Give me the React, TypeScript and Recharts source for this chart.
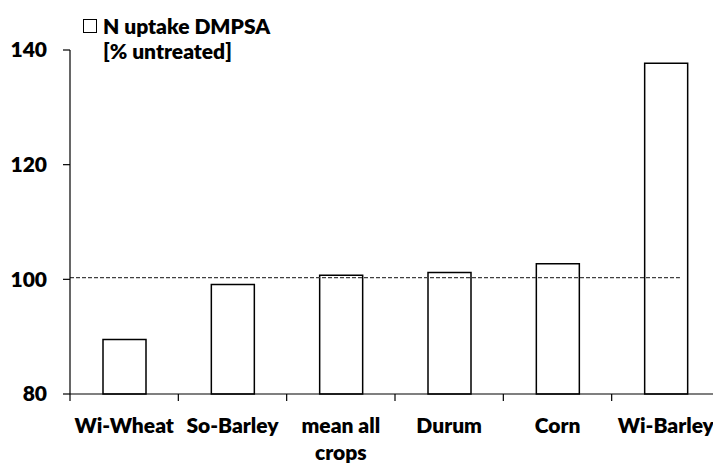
import { Bar, BarChart, ReferenceLine, XAxis, YAxis } from 'recharts'

const crops = ['Wi-Wheat', 'So-Barley', 'mean all crops', 'Durum', 'Corn', 'Wi-Barley']
const uptake = [89.5, 99.1, 100.7, 101.2, 102.7, 137.7]
const yTicks = [80, 100, 120, 140]
const untreatedLevel = 100.3

const data = crops.map((crop, i) => ({ crop, uptake: uptake[i], pos: i + 0.5 }))

const FONT = 'Lato, "Open Sans", sans-serif'
const WEIGHT = 800
const CHART_W = 740
const PLOT_LEFT = 70
const PLOT_RIGHT = 720
const BAND = (PLOT_RIGHT - PLOT_LEFT) / crops.length

function CropTick(props: any) {
  const { x, y, payload } = props
  const label: string = payload.value
  const lines = label === 'mean all crops' ? ['mean all', 'crops'] : [label]
  const left = x - BAND / 2
  return (
    <g>
      <line x1={left} y1={y} x2={left} y2={y + 7} stroke="#000" strokeWidth={1.2} />
      <text
        x={x}
        y={y + 39}
        textAnchor="middle"
        fontFamily={FONT}
        fontWeight={WEIGHT}
        fontSize={21}
        fill="#000"
      >
        {lines.map((l, i) => (
          <tspan key={i} x={x} dy={i === 0 ? 0 : 27}>
            {l}
          </tspan>
        ))}
      </text>
    </g>
  )
}

function LegendBox() {
  return (
    <div
      style={{
        position: 'absolute',
        left: 83,
        top: 13,
        fontFamily: FONT,
        fontWeight: WEIGHT,
        fontSize: 21,
        lineHeight: '25px',
        color: '#000',
      }}
    >
      <div style={{ display: 'flex', alignItems: 'center' }}>
        <span
          style={{
            display: 'inline-block',
            width: 12,
            height: 12,
            border: '1px solid #000',
            marginRight: 6,
          }}
        />
        N uptake DMPSA
      </div>
      <div style={{ paddingLeft: 20 }}>[% untreated]</div>
    </div>
  )
}

export default function App() {
  return (
    <div
      style={{
        position: 'fixed',
        left: 0,
        top: 0,
        width: 713,
        height: 463,
        overflow: 'hidden',
        background: '#fff',
      }}
    >
      <BarChart
        width={CHART_W}
        height={463}
        data={data}
        margin={{ top: 50, right: CHART_W - PLOT_RIGHT, left: 0, bottom: 0 }}
      >
        <XAxis
          xAxisId="cat"
          dataKey="crop"
          height={69}
          axisLine={{ stroke: '#000', strokeWidth: 1.2 }}
          tickLine={false}
          tickSize={0}
          tickMargin={0}
          interval={0}
          tick={<CropTick />}
        />
        <XAxis
          xAxisId="n"
          dataKey="pos"
          type="number"
          domain={[0, crops.length]}
          allowDataOverflow
          height={0}
          axisLine={false}
          tickLine={false}
          tick={false}
        />
        <YAxis
          width={PLOT_LEFT}
          domain={[80, 140]}
          ticks={yTicks}
          interval={0}
          axisLine={{ stroke: '#000', strokeWidth: 1.2 }}
          tickLine={{ stroke: '#000', strokeWidth: 1.2 }}
          tickSize={7}
          tickMargin={16}
          tick={{ fill: '#000', fontFamily: FONT, fontWeight: WEIGHT, fontSize: 21 }}
        />
        <ReferenceLine
          xAxisId="n"
          segment={[
            { x: 0, y: untreatedLevel },
            { x: 5.63, y: untreatedLevel },
          ]}
          stroke="#404040"
          strokeWidth={1.2}
          strokeDasharray="4 2"
          ifOverflow="visible"
        />
        <Bar
          xAxisId="cat"
          dataKey="uptake"
          barSize={43}
          fill="#fff"
          stroke="#000"
          strokeWidth={1.5}
          isAnimationActive={false}
        />
      </BarChart>
      <LegendBox />
    </div>
  )
}
